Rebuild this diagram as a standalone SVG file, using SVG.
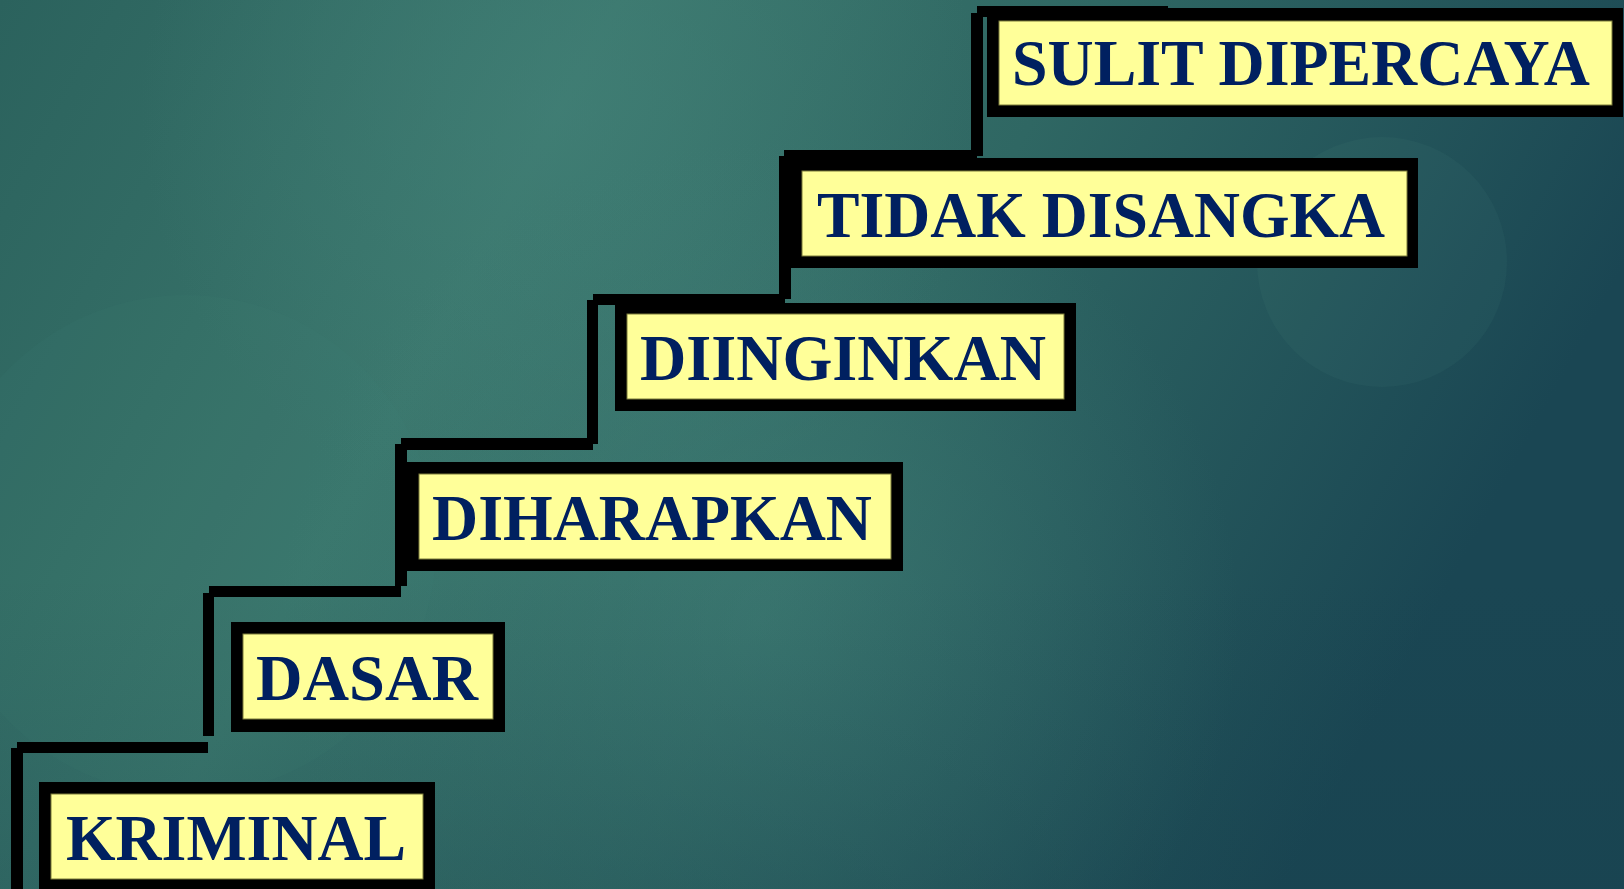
<svg xmlns="http://www.w3.org/2000/svg" width="1624" height="889" viewBox="0 0 1624 889">
<style>
.frame{fill:#000000}
.panel{fill:#FFFF99;stroke:#7a7a3a;stroke-width:1}
.lbl{font-family:"Liberation Serif","Times New Roman",serif;font-weight:bold;font-size:65px;fill:#002060}
.stair{fill:#000000}
</style>
<defs>
<linearGradient id="bg" x1="0" y1="0" x2="1" y2="0.3">
<stop offset="0" stop-color="#2b625d"/>
<stop offset="0.35" stop-color="#3a766c"/>
<stop offset="0.62" stop-color="#2f6763"/>
<stop offset="1" stop-color="#1a4653"/>
</linearGradient>
<radialGradient id="glow1" cx="560" cy="110" r="420" gradientUnits="userSpaceOnUse">
<stop offset="0" stop-color="#44837a" stop-opacity="0.55"/>
<stop offset="1" stop-color="#44837a" stop-opacity="0"/>
</radialGradient>
<radialGradient id="glow2" cx="760" cy="620" r="480" gradientUnits="userSpaceOnUse">
<stop offset="0" stop-color="#44837a" stop-opacity="0.5"/>
<stop offset="1" stop-color="#44837a" stop-opacity="0"/>
</radialGradient>
<linearGradient id="shadeB" x1="0" y1="0" x2="0" y2="1">
<stop offset="0.65" stop-color="#163f4c" stop-opacity="0"/>
<stop offset="1" stop-color="#163f4c" stop-opacity="0.25"/>
</linearGradient>
</defs>
<g id="background">
<rect width="1624" height="889" fill="url(#bg)"/>
<rect width="1624" height="889" fill="url(#glow1)"/>
<rect width="1624" height="889" fill="url(#glow2)"/>
<rect width="1624" height="889" fill="url(#shadeB)"/>
<circle cx="186" cy="545" r="250" fill="#4a8a80" opacity="0.07"/>
<circle cx="1382" cy="262" r="125" fill="#5a9a90" opacity="0.08"/>
</g>
<g id="connectors">
<rect class="stair" x="11" y="748" width="12" height="141"/>
<rect class="stair" x="17" y="742" width="191" height="11"/>
<rect class="stair" x="203" y="593" width="11" height="143"/>
<rect class="stair" x="209" y="586" width="192" height="11"/>
<rect class="stair" x="395" y="444" width="12" height="142"/>
<rect class="stair" x="401" y="438" width="192" height="12"/>
<rect class="stair" x="587" y="300" width="11" height="144"/>
<rect class="stair" x="593" y="294" width="192" height="11"/>
<rect class="stair" x="779" y="156" width="12" height="143"/>
<rect class="stair" x="784" y="150" width="193" height="12"/>
<rect class="stair" x="971" y="13" width="12" height="143"/>
<rect class="stair" x="977" y="6" width="191" height="11"/>
</g>
<g id="node-kriminal">
<rect class="frame" x="39" y="782" width="396" height="120"/>
<rect class="panel" x="51" y="794" width="372" height="85"/>
<text class="lbl" x="66" y="860" textLength="340" lengthAdjust="spacingAndGlyphs">KRIMINAL</text>
</g>
<g id="node-dasar">
<rect class="frame" x="231" y="622" width="274" height="110"/>
<rect class="panel" x="243" y="634" width="250" height="85"/>
<text class="lbl" x="256" y="700" textLength="222" lengthAdjust="spacingAndGlyphs">DASAR</text>
</g>
<g id="node-diharapkan">
<rect class="frame" x="407" y="462" width="496" height="109"/>
<rect class="panel" x="419" y="474" width="472" height="85"/>
<text class="lbl" x="432" y="540" textLength="440" lengthAdjust="spacingAndGlyphs">DIHARAPKAN</text>
</g>
<g id="node-diinginkan">
<rect class="frame" x="615" y="303" width="461" height="108"/>
<rect class="panel" x="627" y="314" width="437" height="85"/>
<text class="lbl" x="640" y="380" textLength="406" lengthAdjust="spacingAndGlyphs">DIINGINKAN</text>
</g>
<g id="node-tidak-disangka">
<rect class="frame" x="791" y="158" width="627" height="110"/>
<rect class="panel" x="802" y="171" width="605" height="85"/>
<text class="lbl" x="817" y="237" textLength="568" lengthAdjust="spacingAndGlyphs">TIDAK DISANGKA</text>
</g>
<g id="node-sulit-dipercaya">
<rect class="frame" x="987" y="8" width="636" height="109"/>
<rect class="panel" x="999" y="21" width="613" height="84"/>
<text class="lbl" x="1012" y="85" textLength="578" lengthAdjust="spacingAndGlyphs">SULIT DIPERCAYA</text>
</g>
</svg>
